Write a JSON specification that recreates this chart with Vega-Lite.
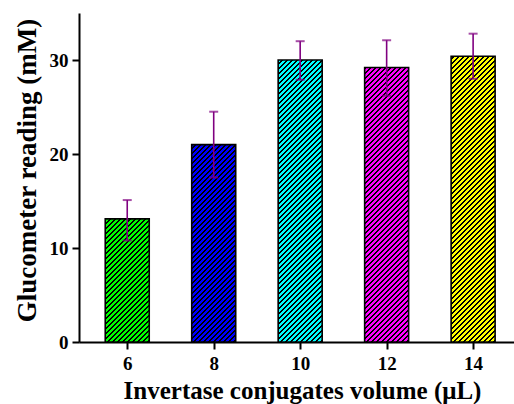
{
  "$schema": "https://vega.github.io/schema/vega-lite/v6.json",
  "autosize": "none",
  "width": 435,
  "height": 329,
  "padding": {"left": 79, "top": 13, "right": 0, "bottom": 62},
  "background": "#ffffff",
  "config": {
    "view": {"stroke": null},
    "axis": {
      "labelFont": "Liberation Serif",
      "labelFontWeight": "bold",
      "labelFontSize": 19,
      "labelColor": "#000000",
      "titleFont": "Liberation Serif",
      "titleFontWeight": "bold",
      "titleColor": "#000000",
      "domainColor": "#000000",
      "domainWidth": 2,
      "tickColor": "#000000",
      "tickWidth": 2,
      "tickSize": 7,
      "grid": false
    }
  },
  "data": {
    "values": [
      {"volume": 6, "value": 13.1, "lower": 10.8, "upper": 15.1},
      {"volume": 8, "value": 21.0, "lower": 17.5, "upper": 24.5},
      {"volume": 10, "value": 30.0, "lower": 27.9, "upper": 32.0},
      {"volume": 12, "value": 29.2, "lower": 26.2, "upper": 32.1},
      {"volume": 14, "value": 30.4, "lower": 28.0, "upper": 32.8}
    ]
  },
  "encoding": {
    "x": {
      "field": "volume",
      "type": "quantitative",
      "scale": {"domain": [5, 14.83], "nice": false, "zero": false},
      "axis": {
        "values": [6, 8, 10, 12, 14],
        "title": "Invertase conjugates volume (μL)",
        "titleFontSize": 25,
        "labelPadding": 5,
        "titlePadding": 5,
        "titleX": 223
      }
    }
  },
  "layer": [
    {
      "mark": {"type": "bar", "size": 44, "stroke": null},
      "encoding": {
        "y": {
          "field": "value",
          "type": "quantitative",
          "stack": null,
          "scale": {"domain": [0, 35], "nice": false},
          "axis": {
            "values": [0, 10, 20, 30],
            "title": "Glucometer reading (mM)",
            "titleFontSize": 27,
            "labelPadding": 4,
            "titlePadding": 8,
            "titleY": 157
          }
        },
        "color": {
          "field": "volume",
          "type": "nominal",
          "scale": {"domain": [6, 8, 10, 12, 14], "range": ["#00ff00", "#0000ff", "#00ffff", "#ff00ff", "#ffff00"]},
          "legend": null
        }
      }
    },
    {
      "mark": {
        "type": "bar",
        "size": 44,
        "stroke": null,
        "fill": {
          "gradient": "linear",
          "x1": 0, "y1": 0, "x2": 0.14976, "y2": 1.11979,
          "stops": [
            {"offset": 0, "color": "#000"}, {"offset": 0.006, "color": "#000"}, {"offset": 0.006, "color": "transparent"}, {"offset": 0.0133, "color": "transparent"},
            {"offset": 0.0133, "color": "#000"}, {"offset": 0.0193, "color": "#000"}, {"offset": 0.0193, "color": "transparent"}, {"offset": 0.0267, "color": "transparent"},
            {"offset": 0.0267, "color": "#000"}, {"offset": 0.0327, "color": "#000"}, {"offset": 0.0327, "color": "transparent"}, {"offset": 0.04, "color": "transparent"},
            {"offset": 0.04, "color": "#000"}, {"offset": 0.046, "color": "#000"}, {"offset": 0.046, "color": "transparent"}, {"offset": 0.0533, "color": "transparent"},
            {"offset": 0.0533, "color": "#000"}, {"offset": 0.0593, "color": "#000"}, {"offset": 0.0593, "color": "transparent"}, {"offset": 0.0667, "color": "transparent"},
            {"offset": 0.0667, "color": "#000"}, {"offset": 0.0727, "color": "#000"}, {"offset": 0.0727, "color": "transparent"}, {"offset": 0.08, "color": "transparent"},
            {"offset": 0.08, "color": "#000"}, {"offset": 0.086, "color": "#000"}, {"offset": 0.086, "color": "transparent"}, {"offset": 0.0933, "color": "transparent"},
            {"offset": 0.0933, "color": "#000"}, {"offset": 0.0993, "color": "#000"}, {"offset": 0.0993, "color": "transparent"}, {"offset": 0.1067, "color": "transparent"},
            {"offset": 0.1067, "color": "#000"}, {"offset": 0.1127, "color": "#000"}, {"offset": 0.1127, "color": "transparent"}, {"offset": 0.12, "color": "transparent"},
            {"offset": 0.12, "color": "#000"}, {"offset": 0.126, "color": "#000"}, {"offset": 0.126, "color": "transparent"}, {"offset": 0.1333, "color": "transparent"},
            {"offset": 0.1333, "color": "#000"}, {"offset": 0.1393, "color": "#000"}, {"offset": 0.1393, "color": "transparent"}, {"offset": 0.1467, "color": "transparent"},
            {"offset": 0.1467, "color": "#000"}, {"offset": 0.1527, "color": "#000"}, {"offset": 0.1527, "color": "transparent"}, {"offset": 0.16, "color": "transparent"},
            {"offset": 0.16, "color": "#000"}, {"offset": 0.166, "color": "#000"}, {"offset": 0.166, "color": "transparent"}, {"offset": 0.1733, "color": "transparent"},
            {"offset": 0.1733, "color": "#000"}, {"offset": 0.1793, "color": "#000"}, {"offset": 0.1793, "color": "transparent"}, {"offset": 0.1867, "color": "transparent"},
            {"offset": 0.1867, "color": "#000"}, {"offset": 0.1927, "color": "#000"}, {"offset": 0.1927, "color": "transparent"}, {"offset": 0.2, "color": "transparent"},
            {"offset": 0.2, "color": "#000"}, {"offset": 0.206, "color": "#000"}, {"offset": 0.206, "color": "transparent"}, {"offset": 0.2133, "color": "transparent"},
            {"offset": 0.2133, "color": "#000"}, {"offset": 0.2193, "color": "#000"}, {"offset": 0.2193, "color": "transparent"}, {"offset": 0.2267, "color": "transparent"},
            {"offset": 0.2267, "color": "#000"}, {"offset": 0.2327, "color": "#000"}, {"offset": 0.2327, "color": "transparent"}, {"offset": 0.24, "color": "transparent"},
            {"offset": 0.24, "color": "#000"}, {"offset": 0.246, "color": "#000"}, {"offset": 0.246, "color": "transparent"}, {"offset": 0.2533, "color": "transparent"},
            {"offset": 0.2533, "color": "#000"}, {"offset": 0.2593, "color": "#000"}, {"offset": 0.2593, "color": "transparent"}, {"offset": 0.2667, "color": "transparent"},
            {"offset": 0.2667, "color": "#000"}, {"offset": 0.2727, "color": "#000"}, {"offset": 0.2727, "color": "transparent"}, {"offset": 0.28, "color": "transparent"},
            {"offset": 0.28, "color": "#000"}, {"offset": 0.286, "color": "#000"}, {"offset": 0.286, "color": "transparent"}, {"offset": 0.2933, "color": "transparent"},
            {"offset": 0.2933, "color": "#000"}, {"offset": 0.2993, "color": "#000"}, {"offset": 0.2993, "color": "transparent"}, {"offset": 0.3067, "color": "transparent"},
            {"offset": 0.3067, "color": "#000"}, {"offset": 0.3127, "color": "#000"}, {"offset": 0.3127, "color": "transparent"}, {"offset": 0.32, "color": "transparent"},
            {"offset": 0.32, "color": "#000"}, {"offset": 0.326, "color": "#000"}, {"offset": 0.326, "color": "transparent"}, {"offset": 0.3333, "color": "transparent"},
            {"offset": 0.3333, "color": "#000"}, {"offset": 0.3393, "color": "#000"}, {"offset": 0.3393, "color": "transparent"}, {"offset": 0.3467, "color": "transparent"},
            {"offset": 0.3467, "color": "#000"}, {"offset": 0.3527, "color": "#000"}, {"offset": 0.3527, "color": "transparent"}, {"offset": 0.36, "color": "transparent"},
            {"offset": 0.36, "color": "#000"}, {"offset": 0.366, "color": "#000"}, {"offset": 0.366, "color": "transparent"}, {"offset": 0.3733, "color": "transparent"},
            {"offset": 0.3733, "color": "#000"}, {"offset": 0.3793, "color": "#000"}, {"offset": 0.3793, "color": "transparent"}, {"offset": 0.3867, "color": "transparent"},
            {"offset": 0.3867, "color": "#000"}, {"offset": 0.3927, "color": "#000"}, {"offset": 0.3927, "color": "transparent"}, {"offset": 0.4, "color": "transparent"},
            {"offset": 0.4, "color": "#000"}, {"offset": 0.406, "color": "#000"}, {"offset": 0.406, "color": "transparent"}, {"offset": 0.4133, "color": "transparent"},
            {"offset": 0.4133, "color": "#000"}, {"offset": 0.4193, "color": "#000"}, {"offset": 0.4193, "color": "transparent"}, {"offset": 0.4267, "color": "transparent"},
            {"offset": 0.4267, "color": "#000"}, {"offset": 0.4327, "color": "#000"}, {"offset": 0.4327, "color": "transparent"}, {"offset": 0.44, "color": "transparent"},
            {"offset": 0.44, "color": "#000"}, {"offset": 0.446, "color": "#000"}, {"offset": 0.446, "color": "transparent"}, {"offset": 0.4533, "color": "transparent"},
            {"offset": 0.4533, "color": "#000"}, {"offset": 0.4593, "color": "#000"}, {"offset": 0.4593, "color": "transparent"}, {"offset": 0.4667, "color": "transparent"},
            {"offset": 0.4667, "color": "#000"}, {"offset": 0.4727, "color": "#000"}, {"offset": 0.4727, "color": "transparent"}, {"offset": 0.48, "color": "transparent"},
            {"offset": 0.48, "color": "#000"}, {"offset": 0.486, "color": "#000"}, {"offset": 0.486, "color": "transparent"}, {"offset": 0.4933, "color": "transparent"},
            {"offset": 0.4933, "color": "#000"}, {"offset": 0.4993, "color": "#000"}, {"offset": 0.4993, "color": "transparent"}, {"offset": 0.5067, "color": "transparent"},
            {"offset": 0.5067, "color": "#000"}, {"offset": 0.5127, "color": "#000"}, {"offset": 0.5127, "color": "transparent"}, {"offset": 0.52, "color": "transparent"},
            {"offset": 0.52, "color": "#000"}, {"offset": 0.526, "color": "#000"}, {"offset": 0.526, "color": "transparent"}, {"offset": 0.5333, "color": "transparent"},
            {"offset": 0.5333, "color": "#000"}, {"offset": 0.5393, "color": "#000"}, {"offset": 0.5393, "color": "transparent"}, {"offset": 0.5467, "color": "transparent"},
            {"offset": 0.5467, "color": "#000"}, {"offset": 0.5527, "color": "#000"}, {"offset": 0.5527, "color": "transparent"}, {"offset": 0.56, "color": "transparent"},
            {"offset": 0.56, "color": "#000"}, {"offset": 0.566, "color": "#000"}, {"offset": 0.566, "color": "transparent"}, {"offset": 0.5733, "color": "transparent"},
            {"offset": 0.5733, "color": "#000"}, {"offset": 0.5793, "color": "#000"}, {"offset": 0.5793, "color": "transparent"}, {"offset": 0.5867, "color": "transparent"},
            {"offset": 0.5867, "color": "#000"}, {"offset": 0.5927, "color": "#000"}, {"offset": 0.5927, "color": "transparent"}, {"offset": 0.6, "color": "transparent"},
            {"offset": 0.6, "color": "#000"}, {"offset": 0.606, "color": "#000"}, {"offset": 0.606, "color": "transparent"}, {"offset": 0.6133, "color": "transparent"},
            {"offset": 0.6133, "color": "#000"}, {"offset": 0.6193, "color": "#000"}, {"offset": 0.6193, "color": "transparent"}, {"offset": 0.6267, "color": "transparent"},
            {"offset": 0.6267, "color": "#000"}, {"offset": 0.6327, "color": "#000"}, {"offset": 0.6327, "color": "transparent"}, {"offset": 0.64, "color": "transparent"},
            {"offset": 0.64, "color": "#000"}, {"offset": 0.646, "color": "#000"}, {"offset": 0.646, "color": "transparent"}, {"offset": 0.6533, "color": "transparent"},
            {"offset": 0.6533, "color": "#000"}, {"offset": 0.6593, "color": "#000"}, {"offset": 0.6593, "color": "transparent"}, {"offset": 0.6667, "color": "transparent"},
            {"offset": 0.6667, "color": "#000"}, {"offset": 0.6727, "color": "#000"}, {"offset": 0.6727, "color": "transparent"}, {"offset": 0.68, "color": "transparent"},
            {"offset": 0.68, "color": "#000"}, {"offset": 0.686, "color": "#000"}, {"offset": 0.686, "color": "transparent"}, {"offset": 0.6933, "color": "transparent"},
            {"offset": 0.6933, "color": "#000"}, {"offset": 0.6993, "color": "#000"}, {"offset": 0.6993, "color": "transparent"}, {"offset": 0.7067, "color": "transparent"},
            {"offset": 0.7067, "color": "#000"}, {"offset": 0.7127, "color": "#000"}, {"offset": 0.7127, "color": "transparent"}, {"offset": 0.72, "color": "transparent"},
            {"offset": 0.72, "color": "#000"}, {"offset": 0.726, "color": "#000"}, {"offset": 0.726, "color": "transparent"}, {"offset": 0.7333, "color": "transparent"},
            {"offset": 0.7333, "color": "#000"}, {"offset": 0.7393, "color": "#000"}, {"offset": 0.7393, "color": "transparent"}, {"offset": 0.7467, "color": "transparent"},
            {"offset": 0.7467, "color": "#000"}, {"offset": 0.7527, "color": "#000"}, {"offset": 0.7527, "color": "transparent"}, {"offset": 0.76, "color": "transparent"},
            {"offset": 0.76, "color": "#000"}, {"offset": 0.766, "color": "#000"}, {"offset": 0.766, "color": "transparent"}, {"offset": 0.7733, "color": "transparent"},
            {"offset": 0.7733, "color": "#000"}, {"offset": 0.7793, "color": "#000"}, {"offset": 0.7793, "color": "transparent"}, {"offset": 0.7867, "color": "transparent"},
            {"offset": 0.7867, "color": "#000"}, {"offset": 0.7927, "color": "#000"}, {"offset": 0.7927, "color": "transparent"}, {"offset": 0.8, "color": "transparent"},
            {"offset": 0.8, "color": "#000"}, {"offset": 0.806, "color": "#000"}, {"offset": 0.806, "color": "transparent"}, {"offset": 0.8133, "color": "transparent"},
            {"offset": 0.8133, "color": "#000"}, {"offset": 0.8193, "color": "#000"}, {"offset": 0.8193, "color": "transparent"}, {"offset": 0.8267, "color": "transparent"},
            {"offset": 0.8267, "color": "#000"}, {"offset": 0.8327, "color": "#000"}, {"offset": 0.8327, "color": "transparent"}, {"offset": 0.84, "color": "transparent"},
            {"offset": 0.84, "color": "#000"}, {"offset": 0.846, "color": "#000"}, {"offset": 0.846, "color": "transparent"}, {"offset": 0.8533, "color": "transparent"},
            {"offset": 0.8533, "color": "#000"}, {"offset": 0.8593, "color": "#000"}, {"offset": 0.8593, "color": "transparent"}, {"offset": 0.8667, "color": "transparent"},
            {"offset": 0.8667, "color": "#000"}, {"offset": 0.8727, "color": "#000"}, {"offset": 0.8727, "color": "transparent"}, {"offset": 0.88, "color": "transparent"},
            {"offset": 0.88, "color": "#000"}, {"offset": 0.886, "color": "#000"}, {"offset": 0.886, "color": "transparent"}, {"offset": 0.8933, "color": "transparent"},
            {"offset": 0.8933, "color": "#000"}, {"offset": 0.8993, "color": "#000"}, {"offset": 0.8993, "color": "transparent"}, {"offset": 0.9067, "color": "transparent"},
            {"offset": 0.9067, "color": "#000"}, {"offset": 0.9127, "color": "#000"}, {"offset": 0.9127, "color": "transparent"}, {"offset": 0.92, "color": "transparent"},
            {"offset": 0.92, "color": "#000"}, {"offset": 0.926, "color": "#000"}, {"offset": 0.926, "color": "transparent"}, {"offset": 0.9333, "color": "transparent"},
            {"offset": 0.9333, "color": "#000"}, {"offset": 0.9393, "color": "#000"}, {"offset": 0.9393, "color": "transparent"}, {"offset": 0.9467, "color": "transparent"},
            {"offset": 0.9467, "color": "#000"}, {"offset": 0.9527, "color": "#000"}, {"offset": 0.9527, "color": "transparent"}, {"offset": 0.96, "color": "transparent"},
            {"offset": 0.96, "color": "#000"}, {"offset": 0.966, "color": "#000"}, {"offset": 0.966, "color": "transparent"}, {"offset": 0.9733, "color": "transparent"},
            {"offset": 0.9733, "color": "#000"}, {"offset": 0.9793, "color": "#000"}, {"offset": 0.9793, "color": "transparent"}, {"offset": 0.9867, "color": "transparent"},
            {"offset": 0.9867, "color": "#000"}, {"offset": 0.9927, "color": "#000"}, {"offset": 0.9927, "color": "transparent"}, {"offset": 1, "color": "transparent"}
          ]
        }
      },
      "encoding": {
        "y": {"datum": 0, "type": "quantitative"},
        "y2": {"datum": 35}
      }
    },
    {
      "mark": {"type": "bar", "size": 46, "stroke": null, "fill": "#ffffff"},
      "encoding": {
        "y": {"field": "value", "type": "quantitative", "stack": null},
        "y2": {"datum": 35}
      }
    },
    {
      "mark": {"type": "bar", "size": 44, "fill": "transparent", "stroke": "#000000", "strokeWidth": 1.6},
      "encoding": {
        "y": {"field": "value", "type": "quantitative", "stack": null}
      }
    },
    {
      "mark": {"type": "rule", "color": "#800080", "strokeWidth": 1.6},
      "encoding": {
        "y": {"field": "lower", "type": "quantitative"},
        "y2": {"field": "upper"}
      }
    },
    {
      "mark": {"type": "tick", "orient": "horizontal", "color": "#800080", "size": 9, "thickness": 2},
      "encoding": {
        "y": {"field": "upper", "type": "quantitative"}
      }
    },
    {
      "mark": {"type": "tick", "orient": "horizontal", "color": "#800080", "size": 9, "thickness": 2},
      "encoding": {
        "y": {"field": "lower", "type": "quantitative"}
      }
    }
  ]
}
